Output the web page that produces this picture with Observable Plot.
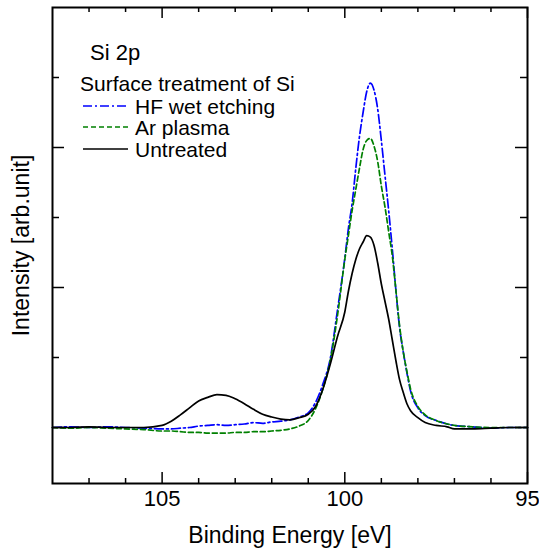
<!DOCTYPE html>
<html><head><meta charset="utf-8">
<script src="https://cdn.jsdelivr.net/npm/d3@7"></script>
<script src="https://cdn.jsdelivr.net/npm/@observablehq/plot@0.6"></script>
<style>
body{margin:0;background:#fff}
#chart svg{font-family:"Liberation Sans",Arial,Helvetica,sans-serif;background:#fff}
</style>
</head><body><div id="chart"></div><script>
// Binding energy grid (eV)
const energy = [108,107.5,107,106.5,106,105.5,105,104.75,104.5,104.25,104,103.75,103.5,103.25,103,102.75,102.5,102.25,102,101.75,101.5,101.25,101,100.8,100.6,100.4,100.2,100,99.9,99.8,99.7,99.6,99.5,99.4,99.3,99.2,99.1,99,98.9,98.8,98.7,98.6,98.5,98.4,98.3,98.2,98,97.8,97.5,97.2,97,96.5,96,95.5,95];
// Intensities (arb. unit)
const hfWet = [0.00,0.01,0.00,0.01,0.00,-0.01,-0.02,-0.02,-0.01,0.00,0.02,0.03,0.04,0.03,0.04,0.05,0.07,0.06,0.08,0.09,0.11,0.15,0.21,0.36,0.62,0.98,1.68,2.42,2.85,3.2,3.7,4.15,4.5,4.8,4.92,4.82,4.55,4.1,3.6,3.1,2.55,1.95,1.42,1.08,0.78,0.52,0.28,0.17,0.1,0.05,0.03,0.01,-0.01,0.00,0.00];
const arPlasma = [0.00,-0.01,0.00,-0.01,-0.02,-0.03,-0.05,-0.05,-0.06,-0.07,-0.07,-0.08,-0.08,-0.08,-0.07,-0.07,-0.06,-0.06,-0.05,-0.04,-0.02,0.02,0.1,0.27,0.55,0.95,1.6,2.4,2.75,3.1,3.4,3.7,3.97,4.1,4.13,4.02,3.8,3.45,3.15,2.8,2.45,1.95,1.45,1.08,0.8,0.55,0.3,0.18,0.1,0.05,0.03,0.01,0.00,0.00,0.00];
const untreated = [0.00,0.00,0.01,0.00,0.00,0.00,0.03,0.09,0.18,0.28,0.38,0.43,0.47,0.46,0.41,0.34,0.26,0.19,0.15,0.12,0.11,0.14,0.19,0.3,0.55,0.9,1.3,1.65,1.95,2.2,2.4,2.55,2.65,2.74,2.72,2.6,2.35,2.05,1.8,1.55,1.25,0.95,0.68,0.5,0.34,0.24,0.14,0.07,0.03,0.01,-0.02,-0.02,-0.01,0.00,0.00];

const seriesLabels = ["HF wet etching","Ar plasma","Untreated"];
const xMajorTicks = [95,100,105];
const xMinorTicks = [96,97,98,99,101,102,103,104,106,107];
const yMajorTicks = [0,2,4];
const yMinorTicks = [1,3,5];

const W = 539, H = 552;
const mL = 52, mR = 12, mT = 7, mB = 69;
const innerW = W - mL - mR, innerH = H - mT - mB;

const styles = [
  {stroke:"#0000ff", dash:"9,3,2,3"},
  {stroke:"#008000", dash:"5,3"},
  {stroke:"#000000", dash:null}
];
const seriesValues = [hfWet, arPlasma, untreated];
const rows = seriesValues.map(vals => energy.map((e,i)=>({E:e, I:vals[i]})));

function lineMark(k){
  const o = {x:"E", y:"I", stroke: styles[k].stroke, strokeWidth: 1.7, curve:"monotone-x"};
  if (styles[k].dash) o.strokeDasharray = styles[k].dash;
  return Plot.line(rows[k], o);
}

function legend(index, scales, values, dims){
  const g = d3.create("svg:g").attr("font-size", 21).attr("fill","black").attr("text-anchor","start");
  g.append("text").attr("x", 90).attr("y", 60).attr("font-size", 22).text("Si 2p");
  g.append("text").attr("x", 80).attr("y", 91).text("Surface treatment of Si");
  const baselines = [114, 135, 157];
  seriesLabels.forEach((lab, k) => {
    const y = baselines[k];
    const ln = g.append("line").attr("x1", 83).attr("x2", 128).attr("y1", y-8).attr("y2", y-8)
      .attr("stroke", styles[k].stroke).attr("stroke-width", 1.7);
    if (styles[k].dash) ln.attr("stroke-dasharray", styles[k].dash);
    g.append("text").attr("x", 135).attr("y", y).text(lab);
  });
  return g.node();
}

const tickStyle = {stroke:"black", strokeWidth:1.5};
const chart = Plot.plot({
  width: W, height: H,
  marginLeft: mL, marginRight: mR, marginTop: mT, marginBottom: mB,
  style: {fontFamily:"Liberation Sans, Arial, sans-serif", background:"#fff"},
  x: {domain:[108,95], axis:null},
  y: {domain:[-0.8,6], axis:null},
  marks: [
    lineMark(0), lineMark(1), lineMark(2),
    // inward ticks, bottom & top
    Plot.tickX(xMajorTicks, {x:d=>d, insetTop: innerH-11, ...tickStyle}),
    Plot.tickX(xMinorTicks, {x:d=>d, insetTop: innerH-5, ...tickStyle}),
    Plot.tickX(xMajorTicks, {x:d=>d, insetBottom: innerH-11, ...tickStyle}),
    Plot.tickX(xMinorTicks, {x:d=>d, insetBottom: innerH-5, ...tickStyle}),
    // inward ticks, left & right
    Plot.tickY(yMajorTicks, {y:d=>d, insetRight: innerW-12, ...tickStyle}),
    Plot.tickY(yMinorTicks, {y:d=>d, insetRight: innerW-7, ...tickStyle}),
    Plot.tickY(yMajorTicks, {y:d=>d, insetLeft: innerW-12, ...tickStyle}),
    Plot.tickY(yMinorTicks, {y:d=>d, insetLeft: innerW-7, ...tickStyle}),
    Plot.axisX(xMajorTicks, {anchor:"bottom", tickSize:0, tickPadding:7, fontSize:22, label:null}),
    Plot.text(["Binding Energy [eV]"], {frameAnchor:"bottom", dy:52, fontSize:23, lineAnchor:"middle", textAnchor:"middle"}),
    Plot.text(["Intensity [arb.unit]"], {frameAnchor:"left", dx:-31, rotate:-90, fontSize:23, lineAnchor:"middle", textAnchor:"middle"}),
    Plot.frame({stroke:"black", strokeWidth:2}),
    legend
  ]
});
document.getElementById("chart").appendChild(chart);
</script></body></html>
